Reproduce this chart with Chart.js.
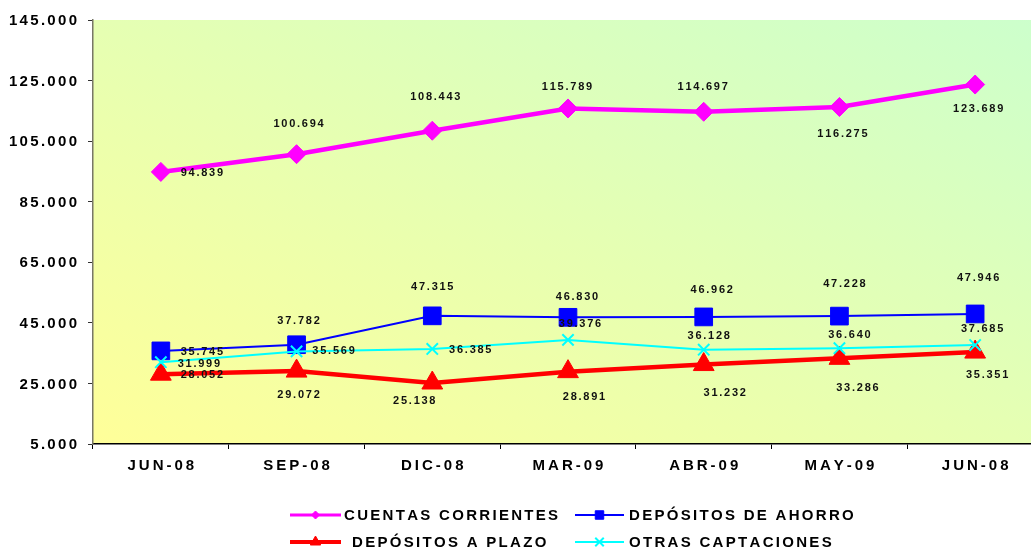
<!DOCTYPE html>
<html>
<head>
<meta charset="utf-8">
<script src="https://cdn.jsdelivr.net/npm/chart.js@4/dist/chart.umd.min.js"></script>
<style>
  html { margin: 0; padding: 0; overflow: hidden; background: #ffffff; width: 1031px; height: 549px; }
  body { margin: 0; padding: 0; background: #ffffff; width: 1031px; height: 549px; overflow: hidden; }
  #wrap { position: relative; width: 1031px; height: 549px; overflow: hidden; }
  #inner { position: absolute; left: 0; top: 0; width: 1043px; height: 549px; }
  #c { display: block; width: 1043px; height: 549px; }
</style>
</head>
<body>
<div id="wrap"><div id="inner"><canvas id="c" width="1043" height="549"></canvas></div></div>
<script>
// ---- data ----
const categories = ['JUN-08', 'SEP-08', 'DIC-08', 'MAR-09', 'ABR-09', 'MAY-09', 'JUN-08'];
const cuentasCorrientes = [94839, 100694, 108443, 115789, 114697, 116275, 123689];
const depositosAhorro   = [35745, 37782, 47315, 46830, 46962, 47228, 47946];
const depositosPlazo    = [28052, 29072, 25138, 28891, 31232, 33286, 35351];
const otrasCaptaciones  = [31999, 35569, 36385, 39376, 36128, 36640, 37685];
const seriesNames = ['CUENTAS CORRIENTES', 'DEPÓSITOS DE AHORRO', 'DEPÓSITOS A PLAZO', 'OTRAS CAPTACIONES'];
const yTickValues = [5000, 25000, 45000, 65000, 85000, 105000, 125000, 145000];

// ---- label placement (style, offsets in px from the point) ----
const labelOffsets = [
  [[41, 1], [2, -30], [3, -34], [-1, -21], [-1, -25], [3, 27], [3, 24]],
  [[41, 1], [2, -24], [0, -29], [9, -20], [8, -27], [5, -32], [3, -36]],
  [[41, 1], [2, 24], [-18, 18], [16, 25], [21, 28], [18, 30], [12, 23]],
  [[38, 2], [37, 0], [38, 1], [12, -16], [5, -14], [10, -13], [7, -16]]
];

const FONT = '"Liberation Sans", Arial, sans-serif';

function fmt(v) {
  return v.toString().replace(/\B(?=(\d{3})+(?!\d))/g, '.');
}

function spacedWidth(ctx, text, sp) {
  let w = 0;
  for (const ch of text) w += ctx.measureText(ch).width + sp;
  return w - sp;
}
function drawSpaced(ctx, text, x, y, sp, align) {
  const w = spacedWidth(ctx, text, sp);
  let cx = x;
  if (align === 'center') cx = x - w / 2;
  else if (align === 'right') cx = x - w;
  ctx.textAlign = 'left';
  for (const ch of text) {
    ctx.fillText(ch, cx, y);
    cx += ctx.measureText(ch).width + sp;
  }
}

const bgPlugin = {
  id: 'bg',
  beforeDraw(chart) {
    const { ctx, chartArea: a } = chart;
    ctx.save();
    ctx.beginPath();
    ctx.rect(a.left, a.top, a.right - a.left, a.bottom - a.top);
    ctx.clip();
    ctx.translate(a.left, a.top);
    ctx.scale(a.right - a.left, a.bottom - a.top);
    const g = ctx.createLinearGradient(0, 1, 1, 0);
    g.addColorStop(0, '#FFFF99');
    g.addColorStop(1, '#CCFFCC');
    ctx.fillStyle = g;
    ctx.fillRect(0, 0, 1, 1);
    ctx.restore();
  }
};

const textPlugin = {
  id: 'texts',
  afterDraw(chart) {
    const { ctx } = chart;
    const xs = chart.scales.x, ys = chart.scales.y;
    ctx.save();
    ctx.fillStyle = '#000000';
    ctx.textBaseline = 'middle';
    // y tick labels
    ctx.font = 'bold 15px ' + FONT;
    yTickValues.forEach(v => {
      drawSpaced(ctx, fmt(v), 77, ys.getPixelForValue(v) + 1, 2.3, 'right');
    });
    // x labels
    categories.forEach((c, i) => {
      drawSpaced(ctx, c, xs.getPixelForValue(i), 466, 3, 'center');
    });
    // data labels
    ctx.font = 'bold 11px ' + FONT;
    ctx.fillStyle = '#111111';
    chart.data.datasets.forEach((ds, di) => {
      const meta = chart.getDatasetMeta(di);
      meta.data.forEach((pt, i) => {
        const off = labelOffsets[di][i];
        drawSpaced(ctx, fmt(ds.data[i]), pt.x + off[0], pt.y + off[1], 1.75, 'center');
      });
    });
    // legend
    const items = [
      { ds: 0, x1: 290, x2: 341, tx: 344, y: 515, lw: 3, r: 4, bw: 1 },
      { ds: 1, x1: 575, x2: 624, tx: 629, y: 515, lw: 2, r: 6, bw: 1 },
      { ds: 2, x1: 290, x2: 341, tx: 352, y: 542, lw: 4, r: 6, bw: 1 },
      { ds: 3, x1: 575, x2: 624, tx: 629, y: 542, lw: 2, r: 6, bw: 2 }
    ];
    items.forEach(it => {
      const ds = chart.data.datasets[it.ds];
      ctx.strokeStyle = ds.borderColor;
      ctx.lineWidth = it.lw;
      ctx.beginPath();
      ctx.moveTo(it.x1, it.y);
      ctx.lineTo(it.x2, it.y);
      ctx.stroke();
      ctx.fillStyle = ds.pointBackgroundColor;
      ctx.strokeStyle = ds.pointBorderColor;
      ctx.lineWidth = it.bw;
      Chart.helpers.drawPoint(ctx, {
        pointStyle: ds.pointStyle,
        radius: it.r,
        rotation: 0,
        borderWidth: it.bw
      }, (it.x1 + it.x2) / 2, it.y);
      ctx.fillStyle = '#000000';
      ctx.font = 'bold 15px ' + FONT;
      drawSpaced(ctx, seriesNames[it.ds], it.tx, it.y + 1, 2.3, 'left');
    });
    ctx.restore();
  }
};

const cfg = {
  type: 'line',
  data: {
    labels: categories,
    datasets: [
      { label: seriesNames[0], data: cuentasCorrientes, borderColor: '#FF00FF', backgroundColor: '#FF00FF',
        pointBackgroundColor: '#FF00FF', pointBorderColor: '#FF00FF', borderWidth: 4.5,
        pointStyle: 'rectRot', pointRadius: 9.5, pointBorderWidth: 1, order: 4 },
      { label: seriesNames[1], data: depositosAhorro, borderColor: '#0000FF', backgroundColor: '#0000FF',
        pointBackgroundColor: '#0000FF', pointBorderColor: '#0000FF', borderWidth: 2,
        pointStyle: 'rect', pointRadius: 12.5, pointBorderWidth: 1, order: 3 },
      { label: seriesNames[2], data: depositosPlazo, borderColor: '#FF0000', backgroundColor: '#FF0000',
        pointBackgroundColor: '#FF0000', pointBorderColor: '#FF0000', borderWidth: 4.5,
        pointStyle: 'triangle', pointRadius: 12, pointBorderWidth: 1, order: 2 },
      { label: seriesNames[3], data: otrasCaptaciones, borderColor: '#00FFFF', backgroundColor: '#00FFFF',
        pointBackgroundColor: '#00FFFF', pointBorderColor: '#00FFFF', borderWidth: 2,
        pointStyle: 'crossRot', pointRadius: 8, pointBorderWidth: 2, order: 1 }
    ]
  },
  options: {
    responsive: false,
    maintainAspectRatio: false,
    animation: false,
    devicePixelRatio: 1,
    layout: { autoPadding: false, padding: { top: 20, left: 0, right: 0, bottom: 0 } },
    plugins: { legend: { display: false }, tooltip: { enabled: false } },
    elements: { line: { tension: 0 } },
    scales: {
      x: {
        type: 'category',
        offset: true,
        grid: { display: true, drawOnChartArea: false, offset: true, tickLength: 5, color: '#000000', lineWidth: 1 },
        border: { display: true, color: '#000000', width: 1.5 },
        ticks: { display: false },
        afterFit(s) { s.height = 105; }
      },
      y: {
        min: 5000, max: 145000,
        grid: { display: true, drawOnChartArea: false, tickLength: 5, color: '#333333', lineWidth: 1 },
        border: { display: true, color: '#777766', width: 1.5 },
        ticks: { display: false, stepSize: 20000 },
        afterFit(s) { s.width = 93; }
      }
    }
  },
  plugins: [bgPlugin, textPlugin]
};

new Chart(document.getElementById('c'), cfg);
</script>
</body>
</html>
